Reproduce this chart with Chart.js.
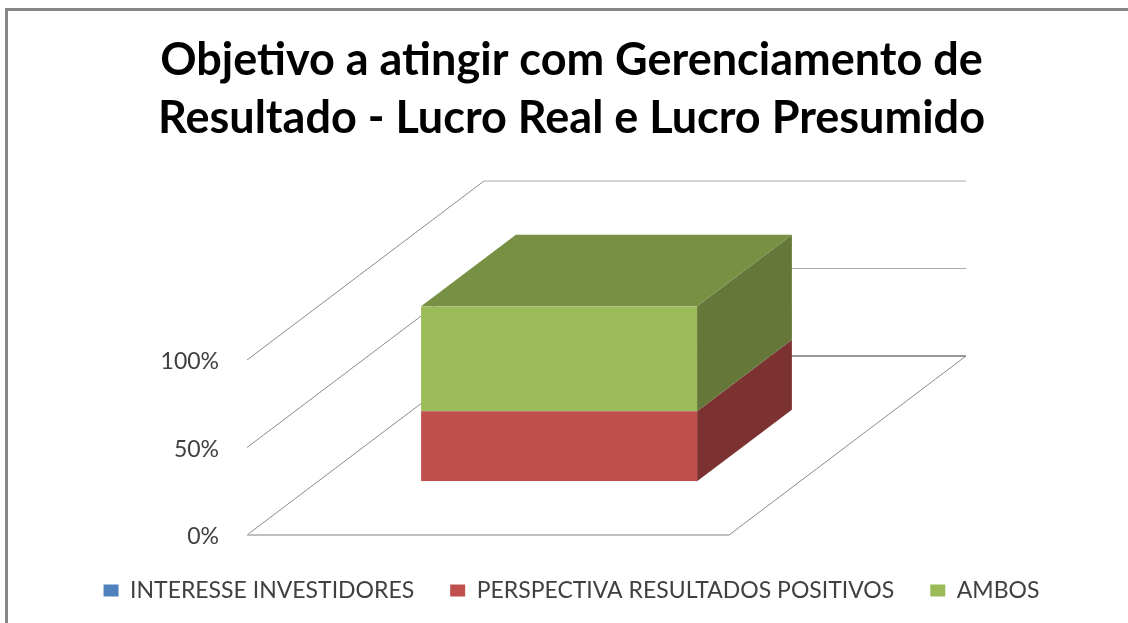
<!DOCTYPE html>
<html>
<head>
<meta charset="utf-8">
<title>Objetivo a atingir</title>
<script src="https://cdn.jsdelivr.net/npm/chart.js@4"></script>
<style>
    body { margin: 0; background: #fff; overflow: hidden; }
    #frame { position: absolute; left: 5px; top: 8px; right: 0; bottom: 0; border-left: 3px solid #868686; border-top: 3px solid #868686; }
    canvas { position: absolute; left: 0; top: 0; }
</style>
</head>
<body>
<div id="frame"></div>
<canvas id="grafico" width="1128" height="623"></canvas>
<script>
const categories = [''];
const seriesNames = ['INTERESSE INVESTIDORES', 'PERSPECTIVA RESULTADOS POSITIVOS', 'AMBOS'];
const interesseInvestidores = [0];
const perspectivaResultados = [40];
const ambos = [60];
const tickValues = [0, 50, 100];
const titleLines = ['Objetivo a atingir com Gerenciamento de', 'Resultado - Lucro Real e Lucro Presumido'];

// profundidade do "3D" em pixels (do plano da frente ate a parede do fundo)
const DEPTH_X = 237;
const DEPTH_Y = -179;
const BAR_DEPTH_START = 0.3;
const BAR_DEPTH_END = 0.7;

const polygon = (ctx, points, color) => {
    ctx.fillStyle = color;
    ctx.beginPath();
    points.forEach((p, i) => (i === 0 ? ctx.moveTo(p[0], p[1]) : ctx.lineTo(p[0], p[1])));
    ctx.closePath();
    ctx.fill();
};

const line = (ctx, x1, y1, x2, y2, color, width) => {
    ctx.strokeStyle = color;
    ctx.lineWidth = width;
    ctx.beginPath();
    ctx.moveTo(x1, y1);
    ctx.lineTo(x2, y2);
    ctx.stroke();
};

const box3d = {
    id: 'box3d',
    // paredes e grade ficam atras das barras
    beforeDatasetsDraw(chart) {
        const { ctx, chartArea, scales } = chart;
        const { left, right } = chartArea;
        ctx.save();
        tickValues.forEach(v => {
            const y = scales.y.getPixelForValue(v);
            line(ctx, left, y, left + DEPTH_X, y + DEPTH_Y, '#8c8c8c', 1);
            line(ctx, left + DEPTH_X, y + DEPTH_Y, right + DEPTH_X, y + DEPTH_Y, v === 0 ? '#999999' : '#aaaaaa', v === 0 ? 2 : 1);
        });
        const y0 = scales.y.getPixelForValue(0);
        line(ctx, left, y0, right, y0, '#bfbfbf', 2);
        line(ctx, right, y0, right + DEPTH_X, y0 + DEPTH_Y, '#8c8c8c', 1);
        ctx.restore();
    },
    // as barras sao desenhadas pela biblioteca, so deslocadas na profundidade
    beforeDatasetDraw(chart) {
        chart.ctx.save();
        chart.ctx.translate(DEPTH_X * BAR_DEPTH_START, DEPTH_Y * BAR_DEPTH_START);
    },
    afterDatasetDraw(chart) {
        chart.ctx.restore();
    },
    afterDatasetsDraw(chart) {
        const { ctx } = chart;
        const ox = DEPTH_X * BAR_DEPTH_START;
        const oy = DEPTH_Y * BAR_DEPTH_START;
        const dx = DEPTH_X * (BAR_DEPTH_END - BAR_DEPTH_START);
        const dy = DEPTH_Y * (BAR_DEPTH_END - BAR_DEPTH_START);
        const sideColors = ['#3a6390', '#7b3230', '#65783a'];
        chart.data.datasets.forEach((ds, i) => {
            const bar = chart.getDatasetMeta(i).data[0];
            if (ds.data[0] === 0) return;
            const xr = bar.x + bar.width / 2 + ox;
            polygon(ctx, [
                [xr, bar.base + oy], [xr + dx, bar.base + oy + dy],
                [xr + dx, bar.y + oy + dy], [xr, bar.y + oy]
            ], sideColors[i]);
        });
        const last = chart.getDatasetMeta(chart.data.datasets.length - 1).data[0];
        const xl = last.x - last.width / 2 + ox;
        const xr = last.x + last.width / 2 + ox;
        const yt = last.y + oy;
        polygon(ctx, [[xl, yt], [xr, yt], [xr + dx, yt + dy], [xl + dx, yt + dy]], '#789043');
    }
};

new Chart(document.getElementById('grafico'), {
    type: 'bar',
    data: {
        labels: categories,
        datasets: [
            { label: seriesNames[0], data: interesseInvestidores, backgroundColor: '#4f81bd' },
            { label: seriesNames[1], data: perspectivaResultados, backgroundColor: '#c0504d' },
            { label: seriesNames[2], data: ambos, backgroundColor: '#9bbb59' }
        ]
    },
    plugins: [box3d],
    options: {
        responsive: false,
        animation: false,
        layout: { padding: { left: 15, bottom: 11 } },
        datasets: { bar: { categoryPercentage: 1, barPercentage: 0.5726, borderWidth: 0 } },
        plugins: {
            title: {
                display: true,
                text: titleLines,
                color: '#000',
                font: { family: 'Lato', size: 45, weight: 'bold', lineHeight: 58 / 45 },
                padding: { top: 31, bottom: 213 }
            },
            legend: {
                position: 'bottom',
                labels: {
                    color: '#404040',
                    font: { family: 'Lato', size: 23 },
                    boxWidth: 15,
                    boxHeight: 12,
                    padding: 36
                }
            },
            tooltip: { enabled: false }
        },
        scales: {
            x: {
                stacked: true,
                grid: { display: false },
                border: { display: false },
                ticks: { display: false },
                afterFit: s => { s.height = 8; }
            },
            y: {
                stacked: true,
                min: 0,
                max: 100,
                afterFit: s => { s.width = 232; },
                afterBuildTicks: s => { s.ticks = tickValues.map(v => ({ value: v })); },
                grid: { display: false, drawTicks: false },
                border: { display: false },
                ticks: {
                    padding: 28,
                    labelOffset: 2,
                    color: '#404040',
                    font: { family: 'Lato', size: 23 },
                    callback: v => v + '%'
                }
            },
            // eixo vazio, so reserva o espaco da direita
            margem: {
                position: 'right',
                axis: 'y',
                min: 0,
                max: 100,
                afterFit: s => { s.width = 399; },
                grid: { display: false },
                border: { display: false },
                ticks: { display: false }
            }
        }
    }
});
</script>
</body>
</html>
